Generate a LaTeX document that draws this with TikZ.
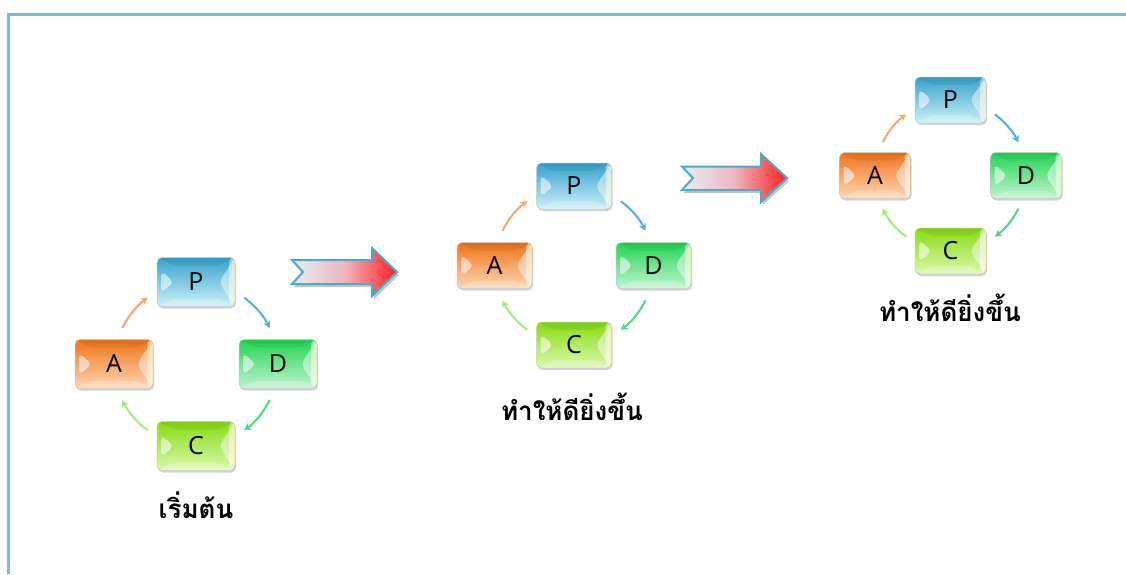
\documentclass[tikz,border=0pt]{standalone}
\usepackage{fontspec}
\setsansfont{Open Sans}
\newfontfamily\thaifont[Script=Thai]{Loma}
\usetikzlibrary{shadows,arrows.meta}

\definecolor{frameC}{HTML}{78BFD0}
\definecolor{arrowline}{HTML}{4BACC6}
\definecolor{arrowL}{HTML}{E6EFF5}
\definecolor{arrowM}{HTML}{EDB5BE}
\definecolor{arrowR}{HTML}{FF1E1E}
\definecolor{pTop}{HTML}{35A2CB}
\definecolor{pBot}{HTML}{CDF0F8}
\definecolor{aTop}{HTML}{EF7418}
\definecolor{aBot}{HTML}{FCD8B8}
\definecolor{dTop}{HTML}{22D455}
\definecolor{dBot}{HTML}{C2F4D0}
\definecolor{cTop}{HTML}{86DC12}
\definecolor{cBot}{HTML}{DDF8B0}
\definecolor{arcAP}{HTML}{F8A56C}
\definecolor{arcPD}{HTML}{52B2D2}
\definecolor{arcDC}{HTML}{4DD884}
\definecolor{arcCA}{HTML}{A6EB80}

\tikzset{
  bevel/.style={rounded corners=5pt, inner sep=0pt, draw=black!22, line width=0.5pt,
    font=\sffamily\fontsize{25}{25}\selectfont,
    drop shadow={shadow xshift=1pt, shadow yshift=-2pt, opacity=.35},
    path picture={
      \fill[white,opacity=.55] ([xshift=4pt,yshift=11pt]path picture bounding box.west)
        -- ([xshift=17pt]path picture bounding box.west)
        -- ([xshift=4pt,yshift=-11pt]path picture bounding box.west) -- cycle;
      \fill[white,opacity=.45] (path picture bounding box.north east)
        -- ([xshift=-16pt]path picture bounding box.east)
        -- (path picture bounding box.south east) -- cycle;
      \fill[white,opacity=.45] ([xshift=-6pt]path picture bounding box.north east)
        rectangle (path picture bounding box.south east);
      \fill[yellow!40!white,opacity=.35] ([xshift=-3pt]path picture bounding box.north east)
        rectangle (path picture bounding box.south east);
      \fill[white,opacity=.22] (path picture bounding box.south west)
        -- (path picture bounding box.south east)
        -- ([xshift=-16pt,yshift=8pt]path picture bounding box.south east)
        -- ([xshift=17pt,yshift=8pt]path picture bounding box.south west) -- cycle;
      \fill[black,opacity=.06] (path picture bounding box.north west)
        -- (path picture bounding box.north east)
        -- ([xshift=-16pt,yshift=-8pt]path picture bounding box.north east)
        -- ([xshift=17pt,yshift=-8pt]path picture bounding box.north west) -- cycle;
    }},
  boxP/.style={bevel, top color=pTop, bottom color=pBot},
  boxA/.style={bevel, top color=aTop, bottom color=aBot},
  boxD/.style={bevel, top color=dTop, bottom color=dBot},
  boxC/.style={bevel, top color=cTop, bottom color=cBot},
  cyc/.style={line width=2pt, -{Stealth[length=7pt,width=7.5pt]}},
  bigarrow/.style={draw=arrowline, line width=2pt, line join=miter,
    left color=arrowL, right color=arrowR, middle color=arrowM,
    drop shadow={shadow xshift=2pt, shadow yshift=-3pt, fill=black!45, opacity=.5}},
  thai/.style={font=\thaifont\bfseries\fontsize{26}{26}\selectfont, inner sep=0pt},
}

% #1 name, #2 cx, #3 cy, #4 radius, #5 width, #6 height
\newcommand\pdcagroup[6]{%
  \node[boxP, minimum width=#5pt, minimum height=#6pt] (#1P) at (#2,#3-#4) {P};
  \node[boxA, minimum width=#5pt, minimum height=#6pt] (#1A) at (#2-#4,#3) {A};
  \node[boxD, minimum width=#5pt, minimum height=#6pt] (#1D) at (#2+#4,#3) {D};
  \node[boxC, minimum width=#5pt, minimum height=#6pt] (#1C) at (#2,#3+#4) {C};
  \draw[cyc, arcAP] ([xshift={0.1012*#4}, yshift={0.4384*#4}]#1A.center)
    arc[start angle=-154, end angle=-126, radius=#4];
  \draw[cyc, arcPD] ([xshift={0.5878*#4}, yshift={-0.1910*#4}]#1P.center)
    arc[start angle=-54, end angle=-26, radius=#4];
  \draw[cyc, arcDC] ([xshift={-0.1012*#4}, yshift={-0.4384*#4}]#1D.center)
    arc[start angle=26, end angle=54, radius=#4];
  \draw[cyc, arcCA] ([xshift={-0.5878*#4}, yshift={0.1910*#4}]#1C.center)
    arc[start angle=126, end angle=154, radius=#4];
}

\begin{document}
\begin{tikzpicture}[x=1pt,y=-1pt]
  \fill[white] (0,0) rectangle (1126,574);
  \useasboundingbox (0,0) rectangle (1126,574);
  \draw[frameC, line width=3pt] (8.5,574) -- (8.5,14.5) -- (1126,14.5);

  \pdcagroup{g1}{196}{364}{82}{78}{49}
  \pdcagroup{g2}{574}{265.5}{79.5}{75}{46}
  \pdcagroup{g3}{950.5}{175.5}{75.5}{71}{46}

  \node[thai, anchor=base] (g1t) at (196,518) {เริ่มต้น};
  \node[thai, anchor=base] (g2t) at (572,420) {ทำให้ดียิ่งขึ้น};
  \node[thai, anchor=base] (g3t) at (950,321) {ทำให้ดียิ่งขึ้น};

  \path[bigarrow] (292,260) -- (372,260) -- (372,248) -- (397,272) -- (372,296)
    -- (372,284) -- (292,284) -- (303,272) -- cycle;
  \path[bigarrow] (682,166.5) -- (761,166.5) -- (761,154) -- (787,178) -- (761,202)
    -- (761,190) -- (682,190) -- (693,178) -- cycle;
\end{tikzpicture}
\end{document}
